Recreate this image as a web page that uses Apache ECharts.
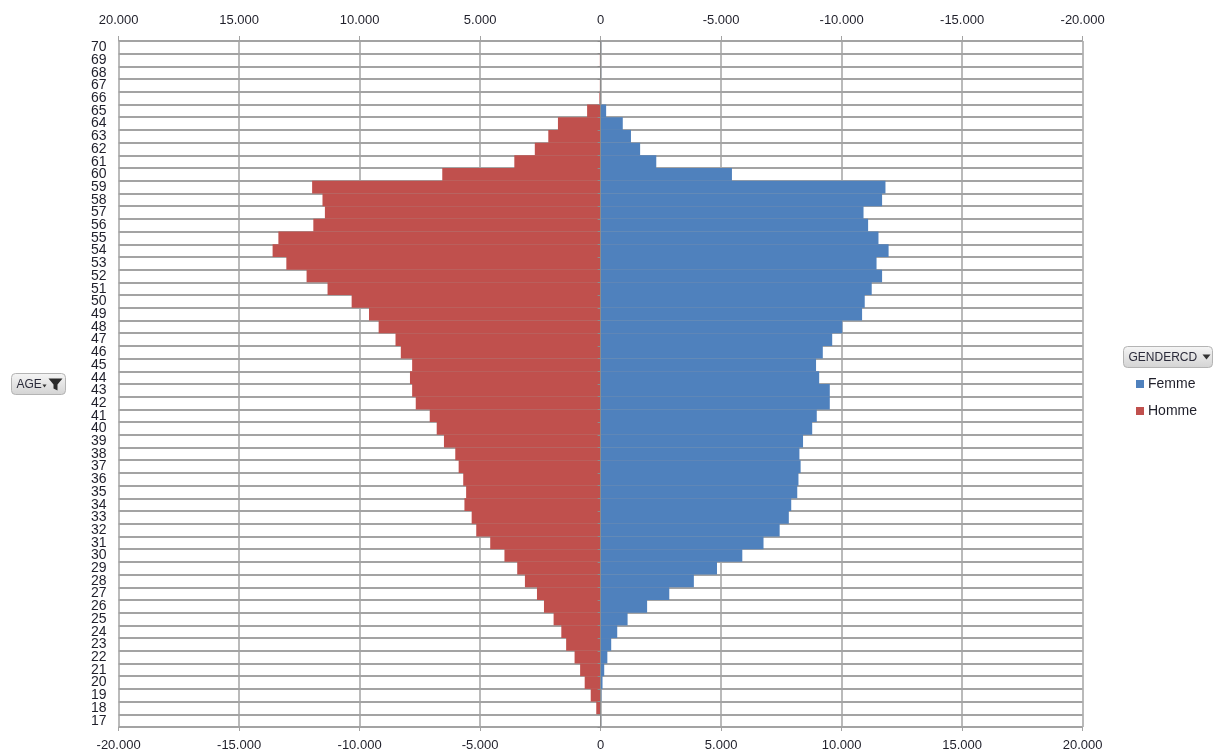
<!DOCTYPE html>
<html>
<head>
<meta charset="utf-8">
<title>Pyramide des âges</title>
<script src="https://cdn.jsdelivr.net/npm/echarts@6/dist/echarts.min.js"></script>
<style>
  html, body { margin: 0; padding: 0; background: #ffffff; }
  #chart { width: 1214px; height: 754px; }
</style>
</head>
<body>
<div id="chart"></div>
<script>
// Ages 17 .. 70 (bottom to top)
const ages = [];
for (let a = 17; a <= 70; a++) ages.push(String(a));

// Headcount per age — women (drawn to the right)
const femme = [
  20, 10, 30, 80, 150, 280, 440, 690, 1120, 1930,
  2850, 3870, 4830, 5880, 6760, 7430, 7810, 7910, 8160, 8210,
  8300, 8250, 8400, 8780, 8970, 9510, 9510, 9070, 8940, 9220,
  9610, 10030, 10850, 10960, 11250, 11680, 11450, 11950, 11530, 11100,
  10910, 11680, 11820, 5450, 2310, 1640, 1260, 920, 230, 0,
  0, 20, 0, 20
];

// Headcount per age — men (negative, drawn to the left)
const homme = [
  0, -180, -410, -660, -850, -1080, -1430, -1630, -1950, -2350,
  -2640, -3140, -3460, -3990, -4580, -5160, -5350, -5650, -5580, -5700,
  -5890, -6030, -6500, -6800, -7090, -7670, -7820, -7910, -7820, -8290,
  -8510, -9210, -9610, -10330, -11330, -12200, -13040, -13610, -13370, -11920,
  -11440, -11540, -11970, -6570, -3580, -2730, -2170, -1770, -560, -50,
  -30, 0, -30, 0
];

const axisMin = -20000, axisMax = 20000, axisStep = 5000;

// "20000" -> "20.000"
function fmtThousands(v) {
  const s = Math.abs(v).toString().replace(/\B(?=(\d{3})+(?!\d))/g, '.');
  return (v < 0 ? '-' : '') + s;
}

const FONT = '"Liberation Sans", Arial, sans-serif';
const TXT = '#1f1f2a';
const GRID = '#a3a3a3';

const chart = echarts.init(document.getElementById('chart'), null, { renderer: 'canvas' });

chart.setOption({
  animation: false,
  backgroundColor: '#ffffff',
  textStyle: { fontFamily: FONT },
  grid: { left: 118.6, right: 131.4, top: 41, bottom: 27, containLabel: false },
  legend: {
    orient: 'vertical',
    left: 1131,
    top: 372,
    itemWidth: 8,
    itemHeight: 8,
    itemGap: 13,
    icon: 'rect',
    data: ['Femme', 'Homme'],
    textStyle: { fontFamily: FONT, fontSize: 14, color: TXT, padding: [0, 0, 0, -1] }
  },
  xAxis: [
    {
      type: 'value',
      position: 'bottom',
      min: axisMin, max: axisMax, interval: axisStep,
      axisLine: { show: false },
      axisTick: { show: true, length: 4, lineStyle: { color: GRID } },
      axisLabel: { formatter: fmtThousands, fontSize: 13, color: TXT, margin: 12, fontFamily: FONT },
      splitLine: { show: true, lineStyle: { color: GRID, width: 1.5 } }
    },
    {
      type: 'value',
      position: 'top',
      inverse: true,
      min: axisMin, max: axisMax, interval: axisStep,
      axisLine: { show: false },
      axisTick: { show: true, length: 5, lineStyle: { color: GRID } },
      axisLabel: { formatter: fmtThousands, fontSize: 13, color: TXT, margin: 14, fontFamily: FONT },
      splitLine: { show: false }
    }
  ],
  yAxis: [
    {
      type: 'category',
      data: ages,
      position: 'left',
      axisLine: { show: false, onZero: false },
      axisTick: { show: false },
      axisLabel: { fontSize: 14, color: TXT, margin: 12, interval: 0, fontFamily: FONT },
      splitLine: { show: true, interval: 0, lineStyle: { color: GRID, width: 2 } }
    },
    {
      // zero line with its small category ticks
      type: 'category',
      data: ages,
      position: 'left',
      z: 5,
      axisLine: { show: true, onZero: true, lineStyle: { color: '#8c8c8c', width: 1 } },
      axisTick: { show: true, length: 3, interval: 0, lineStyle: { color: '#8c8c8c' } },
      axisLabel: { show: false },
      splitLine: { show: false }
    }
  ],
  series: [
    {
      name: 'Femme',
      type: 'bar',
      xAxisIndex: 0,
      yAxisIndex: 0,
      data: femme,
      barGap: '-100%',
      barCategoryGap: '0%',
      itemStyle: { color: '#4f81bd' }
    },
    {
      name: 'Homme',
      type: 'bar',
      xAxisIndex: 0,
      yAxisIndex: 0,
      data: homme,
      barGap: '-100%',
      barCategoryGap: '0%',
      itemStyle: { color: '#c0504d' }
    }
  ],
  graphic: [
    // AGE field button
    {
      type: 'group',
      left: 11, top: 373,
      children: [
        {
          type: 'rect',
          shape: { x: 0, y: 0, width: 54, height: 21, r: 4 },
          style: {
            fill: new echarts.graphic.LinearGradient(0, 0, 0, 1, [
              { offset: 0, color: '#f6f6f6' }, { offset: 1, color: '#d3d3d3' }
            ]),
            stroke: '#b4b4b4', lineWidth: 1
          }
        },
        { type: 'text', x: 5, y: 11, style: { text: 'AGE', fontSize: 12, fontFamily: FONT, fill: '#2b2b3a', verticalAlign: 'middle' } },
        { type: 'polygon', shape: { points: [[31, 11], [35, 11], [33, 14]] }, style: { fill: '#333' } },
        { type: 'polygon', shape: { points: [[37, 5], [51, 5], [46, 11], [46, 17], [42, 15], [42, 11]] }, style: { fill: '#2b2b2b' } }
      ]
    },
    // GENDERCD field button
    {
      type: 'group',
      left: 1123, top: 346,
      children: [
        {
          type: 'rect',
          shape: { x: 0, y: 0, width: 89, height: 21, r: 4 },
          style: {
            fill: new echarts.graphic.LinearGradient(0, 0, 0, 1, [
              { offset: 0, color: '#f6f6f6' }, { offset: 1, color: '#d3d3d3' }
            ]),
            stroke: '#b4b4b4', lineWidth: 1
          }
        },
        { type: 'text', x: 5, y: 11, style: { text: 'GENDERCD', fontSize: 12, fontFamily: FONT, fill: '#2b2b3a', verticalAlign: 'middle' } },
        { type: 'polygon', shape: { points: [[79, 8], [87, 8], [83, 13]] }, style: { fill: '#333' } }
      ]
    }
  ]
});
</script>
</body>
</html>
